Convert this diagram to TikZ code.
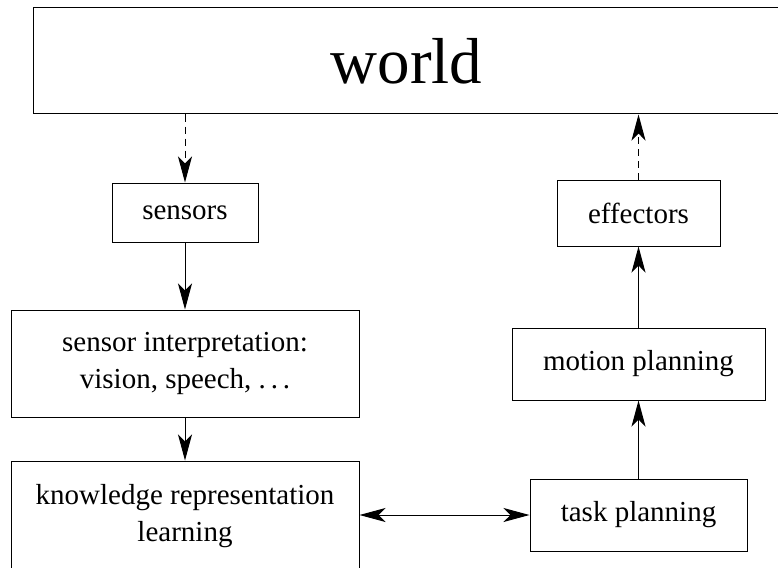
\documentclass[tikz,border=0pt]{standalone}
\usepackage{fontspec}
\setmainfont{Liberation Serif}
\usepackage{tikz}
\usetikzlibrary{arrows.meta, positioning, calc}

\begin{document}
\begin{tikzpicture}[x=1pt, y=1pt,
    >={Stealth[length=26pt, width=14pt, inset=7pt]},
    box/.style={draw, line width=1pt, align=center, inner sep=0pt,
        font=\fontsize{29}{37}\selectfont},
    link/.style={line width=1pt, ->},
    linkdash/.style={link, dash pattern=on 7pt off 5pt}]
    \useasboundingbox (0, 0) rectangle (778, -567);

    \node[draw, line width=1pt, minimum width=746, minimum height=106,
        font=\fontsize{65}{70}\selectfont] (world) at (406.5, -61) {world};

    \node[box, minimum width=146, minimum height=59] (sens) at (185, -212.5) {sensors};
    \node[box, minimum width=348, minimum height=107] (interp) at (185, -363.5) {sensor interpretation:\\vision, speech, .\,.\,.};
    \node[box, minimum width=348, minimum height=110] (know) at (185, -516) {knowledge representation\\learning};

    \node[box, minimum width=163, minimum height=66] (eff) at (638.5, -213) {effectors};
    \node[box, minimum width=253, minimum height=72] (motion) at (638.5, -364) {motion planning};
    \node[box, minimum width=217, minimum height=72] (task) at (638.5, -515) {task planning};

    \draw[linkdash] (world.south -| sens.north) -- (sens);
    \draw[link] (sens) -- (interp);
    \draw[link] (interp) -- (know);
    \draw[link, <->] (know.east |- task) -- (task);
    \draw[link] (task) -- (motion);
    \draw[link] (motion) -- (eff);
    \draw[linkdash] (eff) -- (world.south -| eff.north);
\end{tikzpicture}
\end{document}
